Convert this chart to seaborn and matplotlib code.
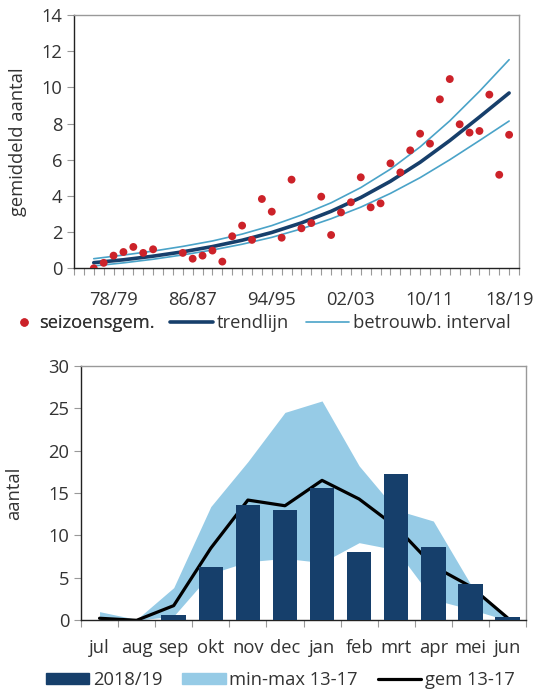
import seaborn as sns
import pandas as pd
import matplotlib.pyplot as plt
from matplotlib.lines import Line2D
from matplotlib.patches import Patch

# --- bovenste grafiek: seizoensgemiddelden ---
jaren = list(range(1976, 1983)) + list(range(1985, 2019))   # startjaar van seizoen
seizoensgem = [0.0, 0.3, 0.7, 0.9, 1.18, 0.85, 1.05,
               0.85, 0.53, 0.7, 0.98, 0.37, 1.77, 2.36, 1.57, 3.83, 3.13, 1.69,
               4.9, 2.21, 2.5, 3.96, 1.84, 3.09, 3.65, 5.03, 3.37, 3.59, 5.8,
               5.3, 6.52, 7.44, 6.89, 9.34, 10.46, 7.96, 7.5, 7.59, 9.6, 5.17, 7.38]

trend_jaren = list(range(1976, 2019, 3))
trend = [0.31, 0.47, 0.67, 0.91, 1.2, 1.55, 1.98, 2.51, 3.15, 3.91, 4.81, 5.86, 7.06, 8.36, 9.69]
trend_hoog = [0.53, 0.73, 0.95, 1.21, 1.51, 1.89, 2.36, 2.94, 3.62, 4.46, 5.48, 6.71, 8.15, 9.78, 11.53]
trend_laag = [0.13, 0.30, 0.50, 0.74, 1.01, 1.33, 1.71, 2.18, 2.74, 3.38, 4.14, 5.01, 6.0, 7.06, 8.14]

x_labels = ["78/79", "86/87", "94/95", "02/03", "10/11", "18/19"]
x_label_jaren = [1978, 1986, 1994, 2002, 2010, 2018]

# --- onderste grafiek: per maand ---
maanden = ["jul", "aug", "sep", "okt", "nov", "dec", "jan", "feb", "mrt", "apr", "mei", "jun"]
aantal_2018 = [0, 0, 0.63, 6.28, 13.62, 13.0, 15.55, 8.01, 17.28, 8.6, 4.24, 0.35]
gem_13_17 = [0.24, 0.0, 1.73, 8.5, 14.17, 13.5, 16.49, 14.29, 11.0, 6.4, 4.0, 0.3]
max_13_17 = [1.02, 0.1, 3.85, 13.4, 18.7, 24.5, 25.85, 18.2, 13.0, 11.7, 4.3, 0.45]
min_13_17 = [0.0, 0.0, 0.5, 5.5, 6.9, 7.3, 6.8, 9.15, 8.3, 2.45, 1.3, 0.0]

sns.set_style("ticks")
plt.rcParams['font.family'] = ['Open Sans', 'DejaVu Sans']
fs = 13.2
txt = '#333333'

c_punt = '#cc2229'
c_trend = '#173f6b'
c_int = '#4aa3c8'
c_bar = '#163f6b'
c_band = '#96cbe6'

fig = plt.figure(figsize=(5.35, 6.92), dpi=100)
ax1 = fig.add_axes([0.1383, 0.6123, 0.8318, 0.366])
ax2 = fig.add_axes([0.1514, 0.1036, 0.8318, 0.3679])

# bovenste
df = pd.DataFrame({"jaar": jaren, "gem": seizoensgem})
dt = pd.DataFrame({"jaar": trend_jaren, "trend": trend, "hoog": trend_hoog, "laag": trend_laag})
sns.lineplot(data=dt, x="jaar", y="hoog", ax=ax1, color=c_int, linewidth=1.2, zorder=2)
sns.lineplot(data=dt, x="jaar", y="laag", ax=ax1, color=c_int, linewidth=1.2, zorder=2)
sns.lineplot(data=dt, x="jaar", y="trend", ax=ax1, color=c_trend, linewidth=2.6, zorder=2)
sns.scatterplot(data=df, x="jaar", y="gem", ax=ax1, color=c_punt, s=32, edgecolor='none', zorder=3)

ax1.set_xlim(1974, 2019)
ax1.set_ylim(0, 14)
ax1.set_yticks(range(0, 15, 2))
ax1.set_xticks(range(1974, 2020))
ax1.set_xticklabels([x_labels[x_label_jaren.index(j)] if j in x_label_jaren else "" for j in range(1974, 2020)])
ax1.tick_params(axis='both', direction='out', length=5, color='#999999', labelcolor=txt, labelsize=fs)
ax1.tick_params(axis='x', pad=11.3)
ax1.set_xlabel("")
ax1.set_ylabel("gemiddeld aantal", color=txt, fontsize=fs, labelpad=10)

for ax in (ax1, ax2):
    for s in ('top', 'right'):
        ax.spines[s].set_visible(True)
        ax.spines[s].set_color('#999999')
    for s in ('left', 'bottom'):
        ax.spines[s].set_color('#222222')
    for s in ax.spines.values():
        s.set_linewidth(1.0)

leg_y1 = 1 - 323 / 692
leg_a = fig.legend([Line2D([], [], marker='o', color=c_punt, linestyle='none', markersize=5)],
                   ["seizoensgem."], loc='center left', bbox_to_anchor=(15 / 535, leg_y1),
                   frameon=False, borderpad=0, borderaxespad=0, handlelength=1.0,
                   handletextpad=0.33, labelcolor=txt, fontsize=fs)
fig.add_artist(leg_a)
fig.legend([Line2D([], [], color=c_trend, linewidth=2.6), Line2D([], [], color=c_int, linewidth=1.2)],
           ["trendlijn", "betrouwb. interval"], loc='center left', bbox_to_anchor=(170 / 535, leg_y1),
           ncol=2, frameon=False, borderpad=0, borderaxespad=0, handlelength=2.35,
           handletextpad=0.2, columnspacing=0.95, labelcolor=txt, fontsize=fs)

# onderste
x = list(range(len(maanden)))
ax2.fill_between(x, min_13_17, max_13_17, color=c_band, linewidth=0, zorder=1)
sns.lineplot(x=x, y=gem_13_17, ax=ax2, color='black', linewidth=2.3, zorder=2)
sns.barplot(x=maanden, y=aantal_2018, ax=ax2, color=c_bar, width=0.66, saturation=1,
            edgecolor='none', linewidth=0, zorder=3)

ax2.set_xlim(-0.5, 11.5)
ax2.set_ylim(0, 30)
ax2.set_yticks(range(0, 31, 5))
ax2.set_xticks([i - 0.5 for i in range(13)])
ax2.set_xticklabels([])
ax2.set_xticks(x, minor=True)
ax2.set_xticklabels(maanden, minor=True)
ax2.tick_params(axis='both', which='major', direction='out', length=5, color='#999999', labelcolor=txt, labelsize=fs)
ax2.tick_params(axis='x', which='minor', length=0, pad=13.5, labelcolor=txt, labelsize=fs)
ax2.set_xlabel("")
ax2.set_ylabel("aantal", color=txt, fontsize=fs, labelpad=18)

h2 = [Patch(color=c_bar), Patch(color=c_band), Line2D([], [], color='black', linewidth=2.3)]
fig.legend(h2, ["2018/19", "min-max 13-17", "gem 13-17"], loc='center left',
           bbox_to_anchor=(46 / 535, 1 - 680 / 692), ncol=3, frameon=False, borderpad=0,
           borderaxespad=0, handlelength=2.35, handleheight=0.5, handletextpad=0.2,
           columnspacing=1.1, labelcolor=txt, fontsize=fs)

fig.savefig("out.png", dpi=100)
